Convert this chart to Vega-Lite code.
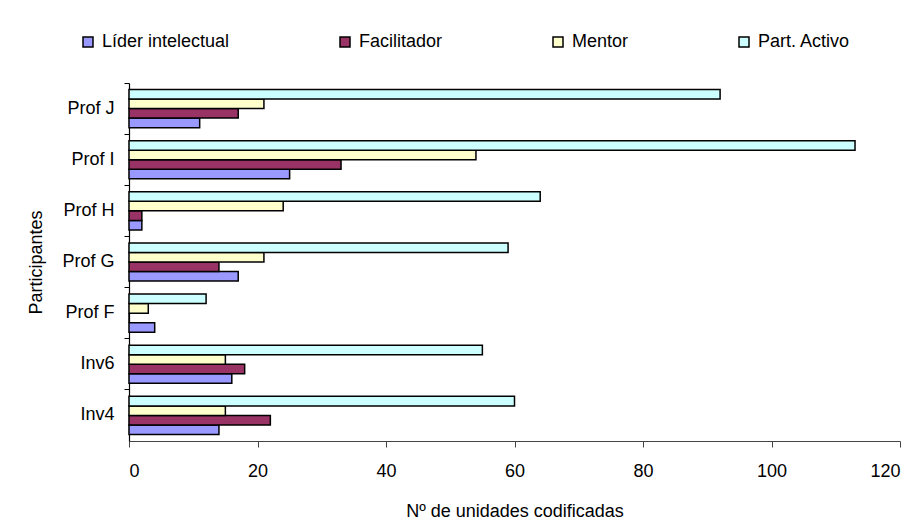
{
  "$schema": "https://vega.github.io/schema/vega-lite/v6.json",
  "width": 771,
  "height": 358,
  "autosize": {"type": "none"},
  "padding": {"left": 129, "top": 83, "right": 23, "bottom": 82},
  "background": "white",
  "config": {
    "view": {"stroke": null},
    "font": "Liberation Sans",
    "axis": {"labelFont": "Liberation Sans", "titleFont": "Liberation Sans", "labelColor": "#000", "titleColor": "#000", "titleFontWeight": "normal", "grid": false}
  },
  "data": {
    "values": [
      {"participante": "Prof J", "rol": "Líder intelectual", "unidades": 11},
      {"participante": "Prof J", "rol": "Facilitador", "unidades": 17},
      {"participante": "Prof J", "rol": "Mentor", "unidades": 21},
      {"participante": "Prof J", "rol": "Part. Activo", "unidades": 92},
      {"participante": "Prof I", "rol": "Líder intelectual", "unidades": 25},
      {"participante": "Prof I", "rol": "Facilitador", "unidades": 33},
      {"participante": "Prof I", "rol": "Mentor", "unidades": 54},
      {"participante": "Prof I", "rol": "Part. Activo", "unidades": 113},
      {"participante": "Prof H", "rol": "Líder intelectual", "unidades": 2},
      {"participante": "Prof H", "rol": "Facilitador", "unidades": 2},
      {"participante": "Prof H", "rol": "Mentor", "unidades": 24},
      {"participante": "Prof H", "rol": "Part. Activo", "unidades": 64},
      {"participante": "Prof G", "rol": "Líder intelectual", "unidades": 17},
      {"participante": "Prof G", "rol": "Facilitador", "unidades": 14},
      {"participante": "Prof G", "rol": "Mentor", "unidades": 21},
      {"participante": "Prof G", "rol": "Part. Activo", "unidades": 59},
      {"participante": "Prof F", "rol": "Líder intelectual", "unidades": 4},
      {"participante": "Prof F", "rol": "Facilitador", "unidades": 0},
      {"participante": "Prof F", "rol": "Mentor", "unidades": 3},
      {"participante": "Prof F", "rol": "Part. Activo", "unidades": 12},
      {"participante": "Inv6", "rol": "Líder intelectual", "unidades": 16},
      {"participante": "Inv6", "rol": "Facilitador", "unidades": 18},
      {"participante": "Inv6", "rol": "Mentor", "unidades": 15},
      {"participante": "Inv6", "rol": "Part. Activo", "unidades": 55},
      {"participante": "Inv4", "rol": "Líder intelectual", "unidades": 14},
      {"participante": "Inv4", "rol": "Facilitador", "unidades": 22},
      {"participante": "Inv4", "rol": "Mentor", "unidades": 15},
      {"participante": "Inv4", "rol": "Part. Activo", "unidades": 60}
    ]
  },
  "mark": {"type": "bar", "stroke": "#000", "strokeWidth": 1.5},
  "encoding": {
    "y": {
      "field": "participante",
      "type": "nominal",
      "sort": ["Prof J", "Prof I", "Prof H", "Prof G", "Prof F", "Inv6", "Inv4"],
      "scale": {"paddingInner": 0, "paddingOuter": 0},
      "axis": {
        "title": "Participantes",
        "titleFontSize": 18,
        "titlePadding": 16,
        "labelFontSize": 18,
        "labelPadding": 10,
        "bandPosition": 0,
        "tickSize": 5,
        "tickColor": "#000",
        "domainColor": "#000",
        "domainWidth": 1.2
      }
    },
    "yOffset": {
      "field": "rol",
      "type": "nominal",
      "scale": {"domain": ["Part. Activo", "Mentor", "Facilitador", "Líder intelectual"], "paddingInner": 0, "paddingOuter": 0.68}
    },
    "x": {
      "field": "unidades",
      "type": "quantitative",
      "scale": {"domain": [0, 120], "nice": false},
      "axis": {
        "title": "Nº de unidades codificadas",
        "titleFontSize": 18,
        "titlePadding": 22,
        "labelFontSize": 18,
        "labelPadding": 15,
        "values": [0, 20, 40, 60, 80, 100, 120],
        "tickSize": 6,
        "tickColor": "#444",
        "domainColor": "#444",
        "domainWidth": 1.2
      }
    },
    "color": {
      "field": "rol",
      "type": "nominal",
      "scale": {
        "domain": ["Líder intelectual", "Facilitador", "Mentor", "Part. Activo"],
        "range": ["#9999FF", "#993366", "#FFFFCC", "#CCFFFF"]
      },
      "legend": {
        "title": null,
        "orient": "none",
        "direction": "horizontal",
        "legendX": -50,
        "legendY": -50,
        "symbolType": "square",
        "symbolSize": 100,
        "symbolStrokeColor": "#000",
        "symbolStrokeWidth": 1.5,
        "symbolOpacity": 1,
        "labelFontSize": 18,
        "labelOffset": 5,
        "labelColor": "#000",
        "columnPadding": 106,
        "labelLimit": 300
      }
    }
  }
}
